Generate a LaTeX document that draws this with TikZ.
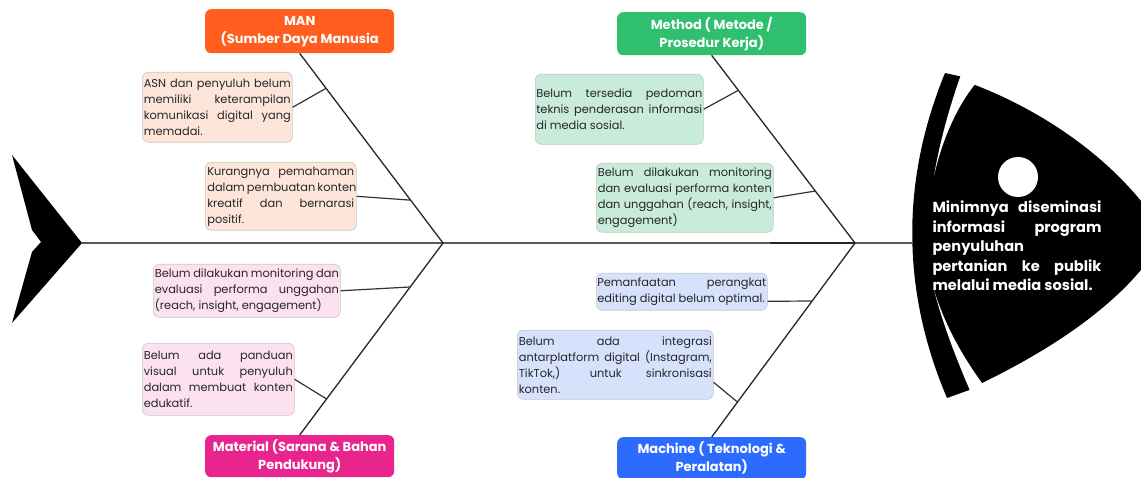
\documentclass[tikz,border=0pt]{standalone}
\usepackage{fontspec}
\setmainfont{Poppins}
\usetikzlibrary{calc}

\definecolor{manC}{HTML}{FF5E1E}
\definecolor{methodC}{HTML}{2FBF6F}
\definecolor{materialC}{HTML}{E8258D}
\definecolor{machineC}{HTML}{2D6BFF}
\definecolor{manL}{HTML}{FEE5DA}
\definecolor{methodL}{HTML}{C9EBDA}
\definecolor{materialL}{HTML}{FCE2F1}
\definecolor{machineL}{HTML}{D6E1FB}

% one justified line of a given width (in pt)
\newcommand\jl[2]{\makebox[#1pt][s]{#2}}

\begin{document}
\begin{tikzpicture}[x=1pt,y=-1pt,
  cat/.style={rounded corners=6pt, minimum width=189pt, inner sep=0pt,
    text=white, align=center, anchor=north west,
    font=\fontsize{13}{18}\selectfont\bfseries},
  cause/.style={rounded corners=6pt, draw=black!22, line width=0.6pt,
    inner sep=0pt, align=left, anchor=north west, text=black!85,
    font=\fontsize{11.4}{16}\selectfont},
  spine/.style={draw=black!65, line width=1.8pt},
  bone/.style={draw=black!85, line width=1.3pt},
  twig/.style={draw=black!80, line width=1.2pt}]

\useasboundingbox (0,0) rectangle (1141,478);
\clip (0,0) rectangle (1141,478);

% ---- tail ----
\coordinate (tailtip) at (82,243);
\fill[black] (12,155) -- (tailtip) -- (12,323) -- (32,252) -- (41,242) -- (32,230) -- cycle;

% ---- head ----
\coordinate (headedge) at (912,243);
\fill[black] (945,73) -- (963,77) -- (975,85)
  .. controls (1040,110) and (1120,160) .. (1165,235)
  .. controls (1130,300) and (1050,350) .. (982,383)
  -- (972,389) -- (947,398)
  .. controls (901,290) and (901,180) .. (945,73) -- cycle;
% white slits between the gill band and the head
\fill[white] (962,72) -- (976,83)
  .. controls (957,106) and (942,140) .. (934,176)
  .. controls (940,140) and (951,102) .. (962,72) -- cycle;
\fill[white] (934,290)
  .. controls (944,328) and (957,360) .. (971,393)
  -- (984,386)
  .. controls (963,357) and (945,326) .. (934,290) -- cycle;
% eye
\fill[white] (1018,177) circle (20);

\node[text=white, align=left, font=\fontsize{14.6}{19.5}\selectfont\bfseries]
  (effect) at (1017,246)
  {\jl{169}{Minimnya diseminasi}\\\jl{169}{informasi program}\\penyuluhan\\\jl{169}{pertanian ke publik}\\melalui media sosial.};

% ---- spine ----
\coordinate (j1) at (443,243);
\coordinate (j2) at (855,243);
\coordinate (s1) at (770,243);
\draw[spine] (tailtip) -- (headedge);
\draw[bone] (s1) -- (j2);

% ---- category boxes ----
\node[cat, fill=manC, minimum height=44pt] (man) at (205,9) {MAN\\(Sumber Daya Manusia};
\node[cat, fill=methodC, minimum height=43pt] (method) at (617,12) {Method ( Metode /\\Prosedur Kerja)};
\node[cat, fill=materialC, minimum height=42pt] (material) at (205,435) {Material (Sarana \& Bahan\\Pendukung)};
\node[cat, fill=machineC, minimum height=42pt] (machine) at (617,437) {Machine ( Teknologi \&\\Peralatan)};

% ---- main bones ----
\draw[bone] (man.south) -- (j1) -- (material.north);
\draw[bone] (method.south) -- (j2) -- (machine.north);

% ---- cause boxes ----
\node[cause, fill=manL, minimum width=150pt, minimum height=70pt] (m1) at (142,72)
  {\jl{147}{ASN dan penyuluh belum}\\\jl{147}{memiliki keterampilan}\\\jl{147}{komunikasi digital yang}\\memadai.};
\node[cause, fill=manL, minimum width=151pt, minimum height=68pt] (m2) at (205,162)
  {\jl{147}{Kurangnya pemahaman}\\\jl{147}{dalam pembuatan konten}\\\jl{147}{kreatif dan bernarasi}\\positif.};

\node[cause, fill=methodL, minimum width=168pt, minimum height=70pt] (d1) at (535,74)
  {\jl{166}{Belum tersedia pedoman}\\\jl{166}{teknis penderasan informasi}\\di media sosial.};
\node[cause, fill=methodL, minimum width=177pt, minimum height=69pt] (d2) at (596,163)
  {\jl{174}{Belum dilakukan monitoring}\\\jl{174}{dan evaluasi performa konten}\\\jl{174}{dan unggahan (reach, insight,}\\engagement)};

\node[cause, fill=materialL, minimum width=187pt, minimum height=53pt] (t1) at (153,264)
  {\jl{184}{Belum dilakukan monitoring dan}\\\jl{184}{evaluasi performa unggahan}\\(reach, insight, engagement)};
\node[cause, fill=materialL, minimum width=152pt, minimum height=72pt] (t2) at (142,343)
  {\jl{149}{Belum ada panduan}\\\jl{149}{visual untuk penyuluh}\\\jl{149}{dalam membuat konten}\\edukatif.};

\node[cause, fill=machineL, minimum width=171pt, minimum height=37pt] (c1) at (596,273)
  {\jl{169}{Pemanfaatan perangkat}\\editing digital belum optimal.};
\node[cause, fill=machineL, minimum width=196pt, minimum height=69pt] (c2) at (517,330)
  {\jl{193}{Belum ada integrasi}\\\jl{193}{antarplatform digital (Instagram,}\\\jl{193}{TikTok,) untuk sinkronisasi}\\konten.};

% ---- branch lines to the bones ----
\draw[twig] (m1.east) -- ($(man.south)!0.184!(j1)$);
\draw[twig] (m2.east) -- ($(man.south)!0.774!(j1)$);
\draw[twig] (t1.east) -- ($(j1)!0.229!(material.north)$);
\draw[twig] (t2.east) -- ($(j1)!0.8125!(material.north)$);
\draw[twig] (d1.east) -- ($(method.south)!0.186!(j2)$);
\draw[twig] (d2.east) -- ($(method.south)!0.723!(j2)$);
\draw[twig] ($(c1.east)+(0,9.5)$) -- ($(j2)!0.299!(machine.north)$);
\draw[twig] ($(c2.east)+(0,17.5)$) -- ($(j2)!0.82!(machine.north)$);

\end{tikzpicture}
\end{document}
